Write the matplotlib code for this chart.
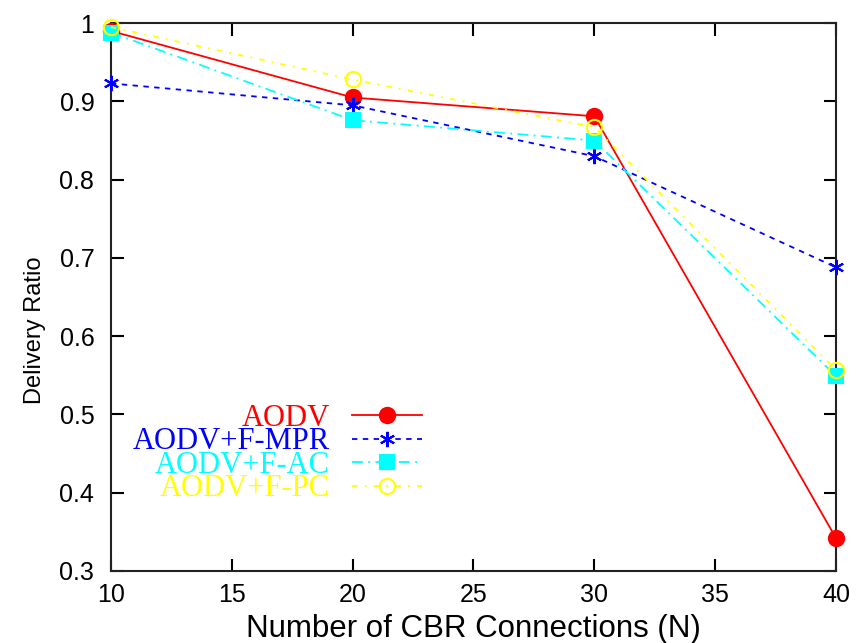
import matplotlib
matplotlib.use("Agg")
import matplotlib.pyplot as plt

connections = [10, 20, 30, 40]
aodv = [0.990, 0.905, 0.881, 0.342]
aodv_mpr = [0.923, 0.895, 0.830, 0.688]
aodv_ac = [0.988, 0.876, 0.850, 0.549]
aodv_pc = [0.995, 0.928, 0.867, 0.557]

series = [
    ("AODV", aodv, "#ff0000", "-", "o", True),
    ("AODV+F-MPR", aodv_mpr, "#0000ff", (0, (3, 3)), (6, 2, 0), True),
    ("AODV+F-AC", aodv_ac, "#00ffff", (0, (6, 3, 1, 3)), "s", True),
    ("AODV+F-PC", aodv_pc, "#ffff00", (0, (3, 4, 1, 4)), "o", False),
]

xticks = [10, 15, 20, 25, 30, 35, 40]
yticks = [0.3, 0.4, 0.5, 0.6, 0.7, 0.8, 0.9, 1.0]
ytick_labels = ["0.3", "0.4", "0.5", "0.6", "0.7", "0.8", "0.9", "1"]

plt.rcParams["font.family"] = "Liberation Sans"

fig = plt.figure(figsize=(8.63, 6.43), dpi=100)
ax = fig.add_axes([0.1286, 0.112, 0.8401, 0.852])

for name, vals, color, ls, marker, filled in series:
    ax.plot(connections, vals, color=color, linestyle=ls, linewidth=1.3,
            marker=marker, markersize=11 if marker != "s" else 10,
            markerfacecolor=color if filled else "none",
            markeredgecolor=color, markeredgewidth=1.5, label=name,
            clip_on=False, zorder=3)

ax.set_xlim(10, 40)
ax.set_ylim(0.3, 1.0)
ax.set_xticks(xticks)
ax.set_xticklabels([str(t) for t in xticks])
ax.set_yticks(yticks)
ax.set_yticklabels(ytick_labels)
ax.tick_params(direction="in", length=9, width=1.5, top=True, right=True,
               labelsize=18)
ax.tick_params(axis="x", pad=9)
ax.tick_params(axis="y", pad=12)
for s in ax.spines.values():
    s.set_linewidth(1.5)
    s.set_color("#222222")

ax.set_xlabel("Number of CBR Connections (N)", fontsize=22.5, labelpad=5)
ax.set_ylabel("Delivery Ratio", fontsize=17)
ax.yaxis.set_label_coords(-0.09, 0.44)

leg = ax.legend(loc="upper right", bbox_to_anchor=(0.429, 0.305),
                frameon=False, markerfirst=False, handlelength=2.3,
                labelspacing=-0.18, handletextpad=0.72, borderpad=0.0,
                borderaxespad=0.0,
                prop={"family": "Liberation Serif", "size": 22},
                labelcolor="linecolor")
leg._legend_box.align = "right"

fig.savefig("out.png", dpi=100)
